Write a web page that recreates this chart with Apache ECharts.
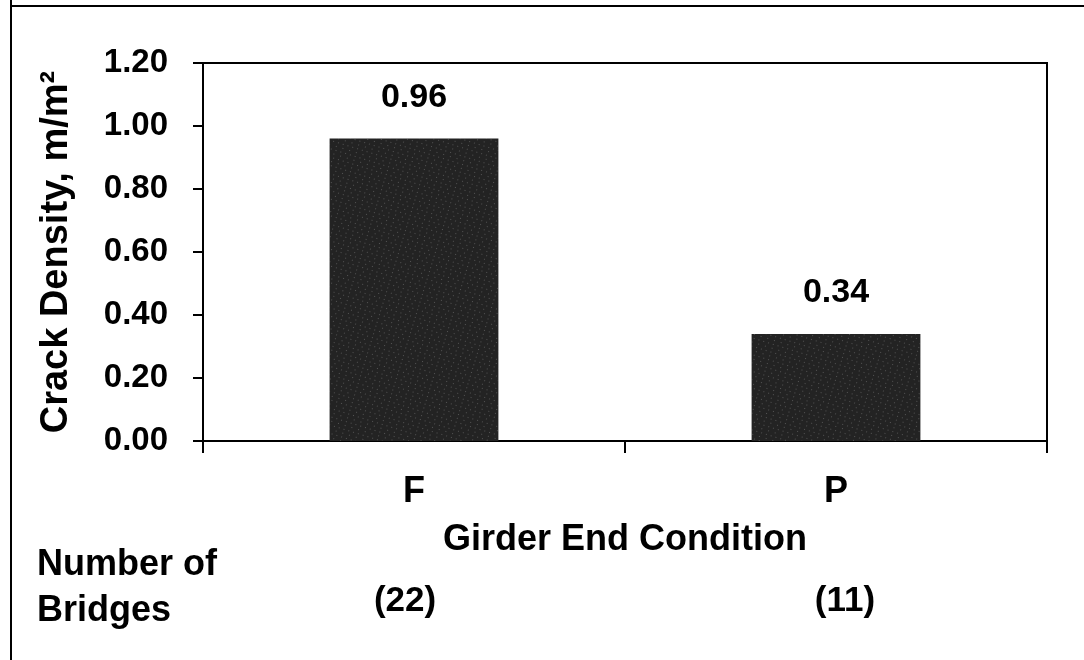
<!DOCTYPE html>
<html>
<head>
<meta charset="utf-8">
<script src="https://cdn.jsdelivr.net/npm/echarts@6/dist/echarts.min.js"></script>
<style>
html,body{margin:0;padding:0;background:#fff;}
#chart{width:1084px;height:660px;}
</style>
</head>
<body>
<div id="chart"></div>
<script>
// ---- data ----
var categories = ['F', 'P'];
var crackDensity = [0.96, 0.34];
var bridgeCounts = [22, 11];
var yTickValues = [0, 0.2, 0.4, 0.6, 0.8, 1.0, 1.2];
var yAxisTitle = 'Crack Density, m/m\u00B2';
var xAxisTitle = 'Girder End Condition';
var bridgesTitle = ['Number of', 'Bridges'];

var FONT = '"Liberation Sans", Arial, Helvetica, sans-serif';
var chart = echarts.init(document.getElementById('chart'), null, {renderer: 'canvas'});

var option = {
  backgroundColor: '#ffffff',
  animation: false,
  grid: {
    left: 203, right: 37, top: 63, bottom: 219,
    show: true, borderColor: '#000', borderWidth: 2, backgroundColor: 'transparent'
  },
  xAxis: {
    type: 'category',
    data: categories,
    name: xAxisTitle,
    nameLocation: 'middle',
    nameGap: 81,
    nameTextStyle: {fontFamily: FONT, fontWeight: 'bold', fontSize: 36, color: '#000'},
    axisLine: {show: true, lineStyle: {color: '#000', width: 2}},
    axisTick: {show: true, alignWithLabel: false, length: 12, lineStyle: {color: '#000', width: 2}},
    axisLabel: {fontFamily: FONT, fontWeight: 'bold', fontSize: 36, color: '#000', margin: 33},
    splitLine: {show: false}
  },
  yAxis: {
    type: 'value',
    min: yTickValues[0],
    max: yTickValues[yTickValues.length - 1],
    interval: yTickValues[1] - yTickValues[0],
    name: yAxisTitle,
    nameLocation: 'middle',
    nameGap: 127,
    nameTextStyle: {fontFamily: FONT, fontWeight: 'bold', fontSize: 38, color: '#000'},
    axisLine: {show: true, lineStyle: {color: '#000', width: 2}},
    axisTick: {show: true, length: 10, lineStyle: {color: '#000', width: 2}},
    axisLabel: {
      fontFamily: FONT, fontWeight: 'bold', fontSize: 33, color: '#000', margin: 35,
      formatter: function (v) { return v.toFixed(2); }
    },
    splitLine: {show: false}
  },
  series: [{
    type: 'bar',
    data: crackDensity,
    barWidth: '40%',
    itemStyle: {
      color: '#232323',
      decal: {
        symbol: 'rect', symbolSize: 1, color: 'rgba(255,255,255,0.22)',
        dashArrayX: [[1, 4], [1, 6]], dashArrayY: [1, 3], rotation: 0.3
      }
    },
    label: {
      show: true, position: 'top', distance: 24,
      fontFamily: FONT, fontWeight: 'bold', fontSize: 34, color: '#000',
      formatter: function (p) { return p.value.toFixed(2); }
    }
  }]
};
chart.setOption(option);

// extra texts below the axis, placed with the category scale
var g = [
  {type: 'line', shape: {x1: 11, y1: 0, x2: 11, y2: 660}, style: {stroke: '#000', lineWidth: 2}},
  {type: 'line', shape: {x1: 11, y1: 6, x2: 1084, y2: 6}, style: {stroke: '#000', lineWidth: 2}},
  {type: 'text', left: 37, top: 547, style: {text: bridgesTitle[0], font: 'bold 36px ' + FONT, fill: '#000'}},
  {type: 'text', left: 37, top: 593, style: {text: bridgesTitle[1], font: 'bold 36px ' + FONT, fill: '#000'}}
];
var countShift = [-9, 9];
for (var i = 0; i < categories.length; i++) {
  var px = chart.convertToPixel({xAxisIndex: 0}, categories[i]);
  g.push({
    type: 'text', x: px + countShift[i], y: 601,
    style: {text: '(' + bridgeCounts[i] + ')', font: 'bold 35px ' + FONT, fill: '#000', align: 'center', verticalAlign: 'middle'}
  });
}
chart.setOption({graphic: g});
</script>
</body>
</html>
